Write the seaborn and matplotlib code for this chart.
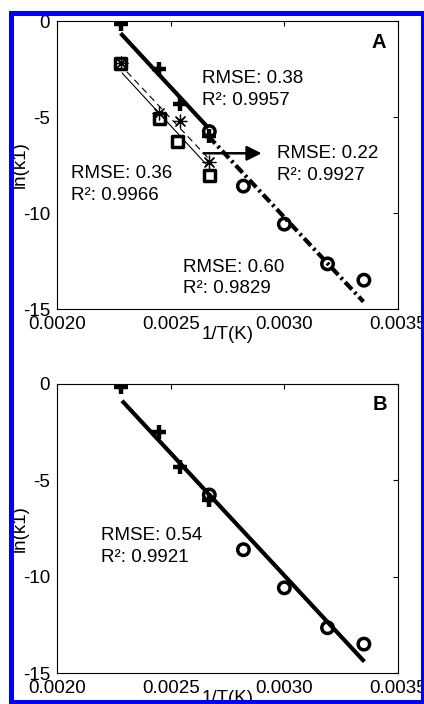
import matplotlib
matplotlib.use("Agg")
import matplotlib.pyplot as plt
from matplotlib.patches import Rectangle
import seaborn as sns

# ---- data: ln(k1) versus 1/T ----
plus_x = [0.00228, 0.00245, 0.00254, 0.00267]
plus_y = [-0.15, -2.50, -4.32, -6.00]
circ_x = [0.00267, 0.00282, 0.00300, 0.00319, 0.00335]
circ_y = [-5.76, -8.60, -10.58, -12.65, -13.50]
sq_x = [0.00228, 0.00245, 0.00253, 0.00267]
sq_y = [-2.20, -5.07, -6.28, -8.05]
star_x = [0.00228, 0.00245, 0.00254, 0.00267]
star_y = [-2.20, -4.80, -5.20, -7.36]

# fitted lines (end points)
hi_fit_x = [0.00228, 0.002666]
hi_fit_y = [-0.64, -5.57]
lo_fit_x = [0.002666, 0.003348]
lo_fit_y = [-6.00, -14.62]
sq_fit_x = [0.002285, 0.002659]
sq_fit_y = [-2.69, -7.50]
star_fit_x = [0.002307, 0.002673]
star_fit_y = [-2.64, -7.24]
all_fit_x = [0.002286, 0.003352]
all_fit_y = [-0.87, -14.41]

# fit statistics
stats_a = [("0.38", "0.9957"), ("0.36", "0.9966"), ("0.22", "0.9927"), ("0.60", "0.9829")]
stats_b = [("0.54", "0.9921")]

x_ticks = [0.0020, 0.0025, 0.0030, 0.0035]
x_tick_labels = ["0.0020", "0.0025", "0.0030", "0.0035"]
y_ticks = [0, -5, -10, -15]
y_tick_labels = ["0", "-5", "-10", "-15"]

sns.set_theme(style="white")
plt.rcParams["font.family"] = ["Liberation Sans", "DejaVu Sans"]
plt.rcParams.update({
    "text.color": "black",
    "axes.labelcolor": "black",
    "axes.edgecolor": "black",
    "axes.linewidth": 0.8,
    "xtick.direction": "in",
    "ytick.direction": "in",
    "xtick.top": True,
    "ytick.right": True,
    "xtick.color": "black",
    "ytick.color": "black",
})

FS = 13.5
W, H = 424, 704
fig = plt.figure(figsize=(W / 100, H / 100), dpi=100)
fig.patch.set_facecolor("white")

axA = fig.add_axes([57 / W, 1 - 309 / H, 341 / W, 288 / H])
axB = fig.add_axes([57 / W, 1 - 673 / H, 341 / W, 289 / H])


def style_axes(ax):
    ax.set_xlim(0.0020, 0.0035)
    ax.set_ylim(-15, 0)
    ax.set_xticks(x_ticks)
    ax.set_xticklabels(x_tick_labels)
    ax.set_yticks(y_ticks)
    ax.set_yticklabels(y_tick_labels)
    ax.tick_params(axis="both", which="both", length=3.5, width=0.8,
                   labelsize=FS, pad=5, colors="black", labelcolor="black")
    ax.set_xlabel("1/T(K)", fontsize=FS, va="top", color="black")
    ax.xaxis.set_label_coords(0.5, -0.058)
    ax.set_ylabel("ln(k1)", fontsize=FS, color="black")
    ax.yaxis.set_label_coords(-0.082, 0.5)
    for s in ax.spines.values():
        s.set_visible(True)
        s.set_color("black")


def fit_line(ax, x, y, lw, ls):
    sns.lineplot(x=x, y=y, ax=ax, color="black", linewidth=lw, linestyle=ls,
                 errorbar=None, dash_capstyle="butt", solid_capstyle="butt")


def stat_text(ax, x, y, rmse, r2, px_per_unit):
    ax.text(x, y, f"RMSE: {rmse}", fontsize=FS, ha="left", va="baseline", color="black")
    ax.text(x, y - 21.5 / px_per_unit, f"R\u00b2: {r2}", fontsize=FS,
            ha="left", va="baseline", color="black")


def plus_pts(ax):
    sns.scatterplot(x=plus_x, y=plus_y, ax=ax, marker="+", s=115, color="black",
                    linewidth=3.2, zorder=4)


def circle_pts(ax):
    sns.scatterplot(x=circ_x, y=circ_y, ax=ax, marker="o", s=68, color="black",
                    facecolor="none", edgecolor="black", linewidth=2.5, zorder=4)


# ---- panel A ----
style_axes(axA)
fit_line(axA, hi_fit_x, hi_fit_y, 3.0, "-")
fit_line(axA, lo_fit_x, lo_fit_y, 3.0, (0, (2.4, 0.9, 0.6, 0.9)))
fit_line(axA, sq_fit_x, sq_fit_y, 0.8, "-")
fit_line(axA, star_fit_x, star_fit_y, 0.8, (0, (6, 4)))
plus_pts(axA)
circle_pts(axA)
sns.scatterplot(x=sq_x, y=sq_y, ax=axA, marker="s", s=68, color="black",
                facecolor="none", edgecolor="black", linewidth=2.5, zorder=4)
sns.scatterplot(x=star_x, y=star_y, ax=axA, marker=(8, 2, 0), s=85,
                color="black", linewidth=0.9, zorder=5)
axA.annotate("", xy=(0.00290, -6.89), xytext=(0.002645, -6.89),
             arrowprops=dict(arrowstyle="-|>", color="black", lw=1.8,
                             mutation_scale=22, shrinkA=0, shrinkB=0))

pxA = 288 / 15
stat_pos_a = [(0.002639, -3.24), (0.002062, -8.19), (0.002969, -7.15), (0.002556, -13.06)]
for (x, y), (rmse, r2) in zip(stat_pos_a, stats_a):
    stat_text(axA, x, y, rmse, r2, pxA)
axA.text(0.003446, -1.42, "A", fontsize=14.5, fontweight="bold", ha="right",
         va="baseline", color="black")

# ---- panel B ----
style_axes(axB)
fit_line(axB, all_fit_x, all_fit_y, 3.0, "-")
plus_pts(axB)
circle_pts(axB)
pxB = 289 / 15
stat_text(axB, 0.002192, -8.10, stats_b[0][0], stats_b[0][1], pxB)
axB.text(0.00345, -1.35, "B", fontsize=14.5, fontweight="bold", ha="right",
         va="baseline", color="black")

# blue frame around the figure
fig.add_artist(Rectangle((10.5 / W, 1 - 701.5 / H), (422.5 - 10.5) / W, (701.5 - 12.5) / H,
                         transform=fig.transFigure, fill=False, edgecolor="#0000ff",
                         linewidth=3.6, zorder=100, clip_on=False))

fig.savefig("out.png", dpi=100, facecolor="white")
